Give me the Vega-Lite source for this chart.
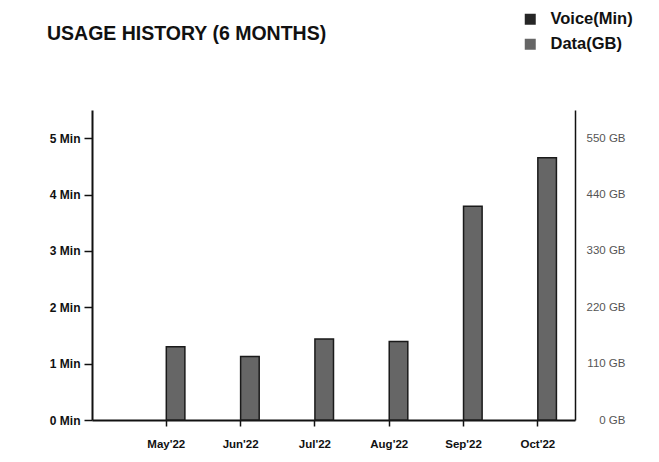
{
  "$schema": "https://vega.github.io/schema/vega-lite/v6.json",
  "width": 483,
  "height": 310,
  "autosize": "none",
  "padding": {"left": 92, "top": 110, "right": 84, "bottom": 42},
  "background": "white",
  "title": {"text": "USAGE HISTORY (6 MONTHS)", "anchor": "start", "frame": "group", "dx": -45, "offset": -33, "fontSize": 19.5, "font": "Liberation Sans", "fontWeight": "bold", "color": "#111111"},
  "data": {"values": [
    {"month": "May'22", "series": "Voice(Min)", "value": 0},
    {"month": "Jun'22", "series": "Voice(Min)", "value": 0},
    {"month": "Jul'22", "series": "Voice(Min)", "value": 0},
    {"month": "Aug'22", "series": "Voice(Min)", "value": 0},
    {"month": "Sep'22", "series": "Voice(Min)", "value": 0},
    {"month": "Oct'22", "series": "Voice(Min)", "value": 0},
    {"month": "May'22", "series": "Data(GB)", "value": 143},
    {"month": "Jun'22", "series": "Data(GB)", "value": 124},
    {"month": "Jul'22", "series": "Data(GB)", "value": 158},
    {"month": "Aug'22", "series": "Data(GB)", "value": 153},
    {"month": "Sep'22", "series": "Data(GB)", "value": 417},
    {"month": "Oct'22", "series": "Data(GB)", "value": 512}
  ]},
  "encoding": {
    "x": {"field": "month", "type": "nominal", "sort": null,
      "scale": {"domain": ["May'22", "Jun'22", "Jul'22", "Aug'22", "Sep'22", "Oct'22"], "paddingInner": 0, "paddingOuter": 0.25, "align": 1},
      "axis": {"title": null, "labelAngle": 0, "domainColor": "#111111", "domainWidth": 2, "tickColor": "#111111", "tickSize": 6, "tickWidth": 1.5, "labelFont": "Liberation Sans", "labelFontWeight": "bold", "labelFontSize": 11.5, "labelColor": "#111111", "labelPadding": 12, "grid": false}},
    "xOffset": {"field": "series", "type": "nominal", "scale": {"domain": ["Voice(Min)", "Data(GB)"], "paddingInner": 0, "paddingOuter": 1.18}},
    "color": {"field": "series", "type": "nominal",
      "scale": {"domain": ["Voice(Min)", "Data(GB)"], "range": ["#262626", "#666666"]},
      "legend": {"orient": "none", "legendX": 430, "legendY": -99, "title": null, "symbolType": "square", "symbolSize": 121, "symbolStrokeWidth": 0, "labelFontSize": 16.5, "labelFontWeight": "bold", "labelFont": "Liberation Sans", "labelColor": "#111111", "rowPadding": 8, "labelOffset": 12}}
  },
  "layer": [
    {
      "transform": [{"filter": "datum.series === 'Voice(Min)'"}],
      "mark": {"type": "bar"},
      "encoding": {
        "y": {"field": "value", "type": "quantitative", "scale": {"domain": [0, 5.5], "nice": false},
          "axis": {"orient": "left", "title": null, "values": [0, 1, 2, 3, 4, 5], "labelExpr": "datum.value + ' Min'", "grid": false, "domainColor": "#111111", "domainWidth": 2, "tickColor": "#111111", "tickSize": 8, "tickWidth": 1.5, "labelFont": "Liberation Sans", "labelFontWeight": "bold", "labelFontSize": 12, "labelColor": "#111111", "labelPadding": 4}}
      }
    },
    {
      "transform": [{"filter": "datum.series === 'Data(GB)'"}],
      "mark": {"type": "bar", "stroke": "#1a1a1a", "strokeWidth": 1.5},
      "encoding": {
        "y": {"field": "value", "type": "quantitative", "scale": {"domain": [0, 605], "nice": false},
          "axis": {"orient": "right", "title": null, "values": [0, 110, 220, 330, 440, 550], "labelExpr": "datum.value + ' GB'", "grid": false, "ticks": false, "domainColor": "#111111", "domainWidth": 1.5, "labelFont": "Liberation Sans", "labelFontSize": 11.5, "labelColor": "#555555", "labelAlign": "right", "labelPadding": 50}}
      }
    }
  ],
  "resolve": {"scale": {"y": "independent"}, "axis": {"y": "independent"}},
  "config": {"view": {"stroke": null}}
}
